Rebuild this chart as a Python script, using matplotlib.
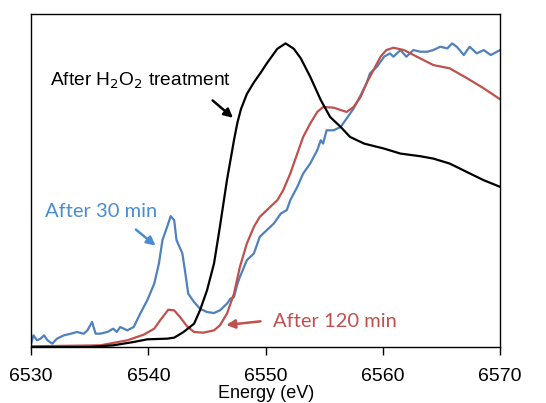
import numpy as np
import matplotlib
matplotlib.use("Agg")
import matplotlib.pyplot as plt

plt.rcParams["font.family"] = ["Liberation Sans", "DejaVu Sans"]

# H2O2 treated sample (black)
e_h2o2 = [6530.0, 6535.0, 6537.0, 6538.75, 6539.9, 6541.6, 6542.2, 6543.0, 6543.9,
          6544.4, 6545.0, 6545.6, 6546.1, 6546.7, 6547.3, 6547.6, 6547.9, 6548.4,
          6549.0, 6549.6, 6550.1, 6551.0, 6551.7, 6552.4, 6553.0, 6553.8, 6554.7,
          6555.5, 6556.4, 6557.2, 6558.4, 6560.1, 6561.5, 6563.2, 6564.3, 6565.7,
          6567.2, 6568.6, 6570.0]
i_h2o2 = [0.0, 0.0, 0.005, 0.015, 0.023, 0.025, 0.028, 0.045, 0.070,
          0.110, 0.170, 0.251, 0.361, 0.501, 0.621, 0.675, 0.715, 0.760,
          0.795, 0.825, 0.852, 0.896, 0.912, 0.896, 0.867, 0.812, 0.742,
          0.691, 0.661, 0.631, 0.611, 0.596, 0.581, 0.573, 0.566, 0.551,
          0.525, 0.501, 0.481]

# after 120 min (red)
e_120 = [6530.0, 6535.9, 6538.2, 6539.6, 6540.5, 6541.0, 6541.7, 6542.2, 6542.7,
         6543.3, 6543.9, 6544.7, 6545.6, 6546.1, 6546.7, 6547.3, 6547.8, 6548.4,
         6549.0, 6549.5, 6550.1, 6551.0, 6551.5, 6552.1, 6552.7, 6553.2, 6553.8,
         6554.4, 6554.9, 6555.8, 6556.9, 6557.5, 6558.1, 6558.6, 6559.2, 6559.8,
         6560.3, 6560.9, 6561.8, 6562.9, 6564.3, 6565.7, 6567.2, 6568.6, 6570.0]
i_120 = [0.002, 0.005, 0.020, 0.037, 0.055, 0.080, 0.112, 0.110, 0.090,
         0.062, 0.045, 0.043, 0.050, 0.065, 0.100, 0.160, 0.240, 0.311,
         0.361, 0.391, 0.411, 0.441, 0.471, 0.521, 0.581, 0.631, 0.671,
         0.706, 0.721, 0.719, 0.706, 0.721, 0.751, 0.792, 0.832, 0.872,
         0.892, 0.899, 0.892, 0.872, 0.847, 0.837, 0.807, 0.777, 0.744]

# after 30 min (blue)
e_30 = [6530.0, 6530.2, 6530.5, 6530.8, 6531.1, 6531.4, 6531.8, 6532.2, 6532.8,
        6533.4, 6533.9, 6534.5, 6534.8, 6535.2, 6535.5, 6535.9, 6536.5, 6537.0,
        6537.3, 6537.6, 6538.2, 6538.75, 6539.3, 6539.9, 6540.5, 6540.9, 6541.2,
        6541.6, 6541.9, 6542.2, 6542.4, 6542.9, 6543.2, 6543.4, 6543.9, 6544.4,
        6545.0, 6545.6, 6546.1, 6546.7, 6547.0, 6547.3, 6547.6, 6547.8, 6548.4,
        6549.0, 6549.5, 6550.1, 6550.7, 6551.3, 6551.8, 6552.1, 6552.7, 6553.2,
        6553.8, 6554.4, 6554.7, 6554.9, 6555.2, 6555.8, 6556.4, 6556.9, 6557.5,
        6558.1, 6558.6, 6558.9, 6559.5, 6560.1, 6560.6, 6560.9, 6561.5, 6562.0,
        6562.6, 6563.2, 6563.8, 6564.3, 6564.9, 6565.5, 6565.9, 6566.3, 6566.9,
        6567.4, 6568.0, 6568.6, 6569.2, 6570.0]
i_30 = [0.010, 0.035, 0.020, 0.025, 0.035, 0.020, 0.010, 0.025, 0.035,
        0.040, 0.045, 0.040, 0.050, 0.075, 0.040, 0.040, 0.045, 0.055,
        0.045, 0.060, 0.050, 0.060, 0.100, 0.140, 0.190, 0.251, 0.321,
        0.361, 0.393, 0.381, 0.321, 0.281, 0.210, 0.160, 0.135, 0.115,
        0.105, 0.102, 0.110, 0.130, 0.145, 0.150, 0.190, 0.210, 0.261,
        0.281, 0.331, 0.351, 0.371, 0.401, 0.411, 0.441, 0.481, 0.521,
        0.551, 0.591, 0.621, 0.611, 0.651, 0.651, 0.661, 0.686, 0.716,
        0.756, 0.792, 0.822, 0.842, 0.872, 0.882, 0.872, 0.892, 0.872,
        0.892, 0.887, 0.887, 0.892, 0.902, 0.897, 0.912, 0.902, 0.877,
        0.902, 0.882, 0.892, 0.877, 0.892]

x_ticks = [6530, 6540, 6550, 6560, 6570]

BLACK = "#000000"
RED = "#C0504D"
BLUE = "#4F81BD"
BLUE_LABEL = "#4A8CD0"

fig = plt.figure(figsize=(5.46, 4.03), dpi=100)
ax = fig.add_axes([0.057, 0.139, 0.859, 0.826])

ax.plot(e_30, i_30, color=BLUE, lw=1.6)
ax.plot(e_120, i_120, color=RED, lw=1.6)
ax.plot(e_h2o2, i_h2o2, color=BLACK, lw=1.6)

ax.set_xlim(6530, 6570)
ax.set_ylim(0, 1.0)
ax.set_xticks(x_ticks)
ax.set_yticks([])
ax.tick_params(axis="x", direction="out", length=6, width=1, labelsize=14, pad=9)
for s in ax.spines.values():
    s.set_linewidth(1.0)
ax.set_xlabel("Energy (eV)", fontsize=13, labelpad=0)

# annotations
ax.text(6531.65, 0.80, "After H$_2$O$_2$ treatment", fontsize=13.8,
        ha="left", va="center", color=BLACK)
ax.annotate("", xy=(6547.4, 0.683), xytext=(6545.3, 0.746),
            arrowprops=dict(arrowstyle="-|>", color=BLACK, lw=1.8,
                            mutation_scale=13))

ax.text(6531.2, 0.406, "After 30 min", fontsize=14.5, family="Lato",
        ha="left", va="center", color=BLUE_LABEL)
ax.annotate("", xy=(6540.8, 0.299), xytext=(6538.75, 0.358),
            arrowprops=dict(arrowstyle="-|>", color=BLUE_LABEL, lw=1.8,
                            mutation_scale=13))

ax.text(6550.6, 0.078, "After 120 min", fontsize=14.5, family="Lato",
        ha="left", va="center", color=RED)
ax.annotate("", xy=(6546.4, 0.065), xytext=(6549.8, 0.078),
            arrowprops=dict(arrowstyle="-|>", color=RED, lw=1.8,
                            mutation_scale=13))

fig.savefig("out.png", dpi=100)
